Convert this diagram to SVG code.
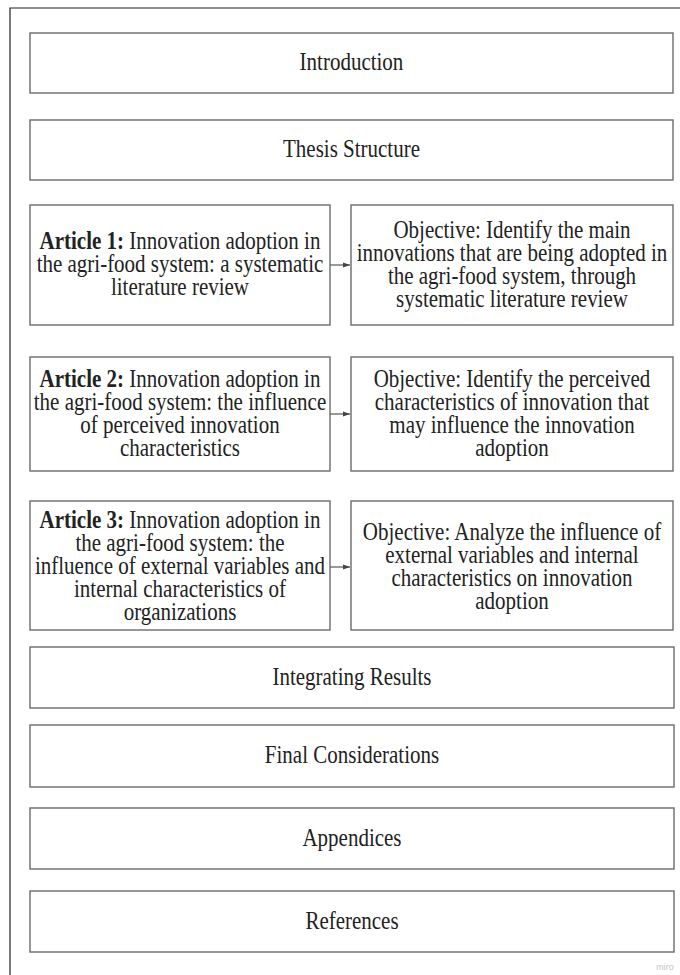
<svg xmlns="http://www.w3.org/2000/svg" width="680" height="975" viewBox="0 0 680 975">
<style>
  .box{fill:#fff;stroke:#6b6b6b;stroke-width:1.4}
  .t{font-family:"Liberation Serif","Times New Roman",serif;font-size:21px;fill:#222;text-anchor:middle}
  .b{font-weight:bold}
  .conn{stroke:#555;stroke-width:1.2;fill:none}
  .frame{stroke:#222;stroke-width:1.2;fill:none}
</style>
<defs>
  <marker id="arr" markerWidth="8" markerHeight="8" refX="7" refY="4" orient="auto" markerUnits="userSpaceOnUse">
    <path d="M0,1.5 L7,4 L0,6.5 Z" fill="#444"/>
  </marker>
</defs>
<rect width="680" height="975" fill="#fff"/>
<path class="frame" d="M10,975 V8 H680"/>

<g id="introduction"><rect class="box" x="30" y="33" width="643" height="60"/><text class="t" x="351.5" y="0" transform="matrix(1,0,0,1.15,0,70)">Introduction</text></g>
<g id="thesis-structure"><rect class="box" x="30" y="120" width="643" height="60"/><text class="t" x="351.5" y="0" transform="matrix(1,0,0,1.15,0,157)">Thesis Structure</text></g>

<g id="article1"><rect class="box" x="30" y="205" width="300" height="120"/>
<text class="t" x="180" y="0" transform="matrix(1,0,0,1.15,0,249)"><tspan class="b">Article 1:</tspan> Innovation adoption in</text>
<text class="t" x="180" y="0" transform="matrix(1,0,0,1.15,0,272)">the agri-food system: a systematic</text>
<text class="t" x="180" y="0" transform="matrix(1,0,0,1.15,0,295)">literature review</text></g>
<g id="objective1"><rect class="box" x="351" y="205" width="322" height="120"/>
<text class="t" x="512" y="0" transform="matrix(1,0,0,1.15,0,238)">Objective: Identify the main</text>
<text class="t" x="512" y="0" transform="matrix(1,0,0,1.15,0,261)">innovations that are being adopted in</text>
<text class="t" x="512" y="0" transform="matrix(1,0,0,1.15,0,284)">the agri-food system, through</text>
<text class="t" x="512" y="0" transform="matrix(1,0,0,1.15,0,307)">systematic literature review</text></g>

<g id="article2"><rect class="box" x="30" y="357" width="300" height="114"/>
<text class="t" x="180" y="0" transform="matrix(1,0,0,1.15,0,387)"><tspan class="b">Article 2:</tspan> Innovation adoption in</text>
<text class="t" x="180" y="0" transform="matrix(1,0,0,1.15,0,410)">the agri-food system: the influence</text>
<text class="t" x="180" y="0" transform="matrix(1,0,0,1.15,0,433)">of perceived innovation</text>
<text class="t" x="180" y="0" transform="matrix(1,0,0,1.15,0,456)">characteristics</text></g>
<g id="objective2"><rect class="box" x="351" y="357" width="322" height="114"/>
<text class="t" x="512" y="0" transform="matrix(1,0,0,1.15,0,387)">Objective: Identify the perceived</text>
<text class="t" x="512" y="0" transform="matrix(1,0,0,1.15,0,410)">characteristics of innovation that</text>
<text class="t" x="512" y="0" transform="matrix(1,0,0,1.15,0,433)">may influence the innovation</text>
<text class="t" x="512" y="0" transform="matrix(1,0,0,1.15,0,456)">adoption</text></g>

<g id="article3"><rect class="box" x="30" y="501" width="300" height="129"/>
<text class="t" x="180" y="0" transform="matrix(1,0,0,1.15,0,528)"><tspan class="b">Article 3:</tspan> Innovation adoption in</text>
<text class="t" x="180" y="0" transform="matrix(1,0,0,1.15,0,551)">the agri-food system: the</text>
<text class="t" x="180" y="0" transform="matrix(1,0,0,1.15,0,574)">influence of external variables and</text>
<text class="t" x="180" y="0" transform="matrix(1,0,0,1.15,0,597)">internal characteristics of</text>
<text class="t" x="180" y="0" transform="matrix(1,0,0,1.15,0,620)">organizations</text></g>
<g id="objective3"><rect class="box" x="351" y="501" width="322" height="129"/>
<text class="t" x="512" y="0" transform="matrix(1,0,0,1.15,0,540)">Objective: Analyze the influence of</text>
<text class="t" x="512" y="0" transform="matrix(1,0,0,1.15,0,563)">external variables and internal</text>
<text class="t" x="512" y="0" transform="matrix(1,0,0,1.15,0,586)">characteristics on innovation</text>
<text class="t" x="512" y="0" transform="matrix(1,0,0,1.15,0,609)">adoption</text></g>

<g id="integrating-results"><rect class="box" x="30" y="647" width="644" height="61"/><text class="t" x="352" y="0" transform="matrix(1,0,0,1.15,0,685)">Integrating Results</text></g>
<g id="final-considerations"><rect class="box" x="30" y="725" width="644" height="62"/><text class="t" x="352" y="0" transform="matrix(1,0,0,1.15,0,763)">Final Considerations</text></g>
<g id="appendices"><rect class="box" x="30" y="808" width="644" height="61"/><text class="t" x="352" y="0" transform="matrix(1,0,0,1.15,0,846)">Appendices</text></g>
<g id="references"><rect class="box" x="30" y="891" width="644" height="61"/><text class="t" x="352" y="0" transform="matrix(1,0,0,1.15,0,929)">References</text></g>

<g id="connectors">
  <line class="conn" x1="330" y1="265" x2="350" y2="265" marker-end="url(#arr)"/>
  <line class="conn" x1="330" y1="414" x2="350" y2="414" marker-end="url(#arr)"/>
  <line class="conn" x1="330" y1="567" x2="350" y2="567" marker-end="url(#arr)"/>
</g>
<text x="665" y="970" font-family="Liberation Sans, Arial, sans-serif" font-size="9" fill="#c4c4c4" text-anchor="middle">miro</text>
</svg>
